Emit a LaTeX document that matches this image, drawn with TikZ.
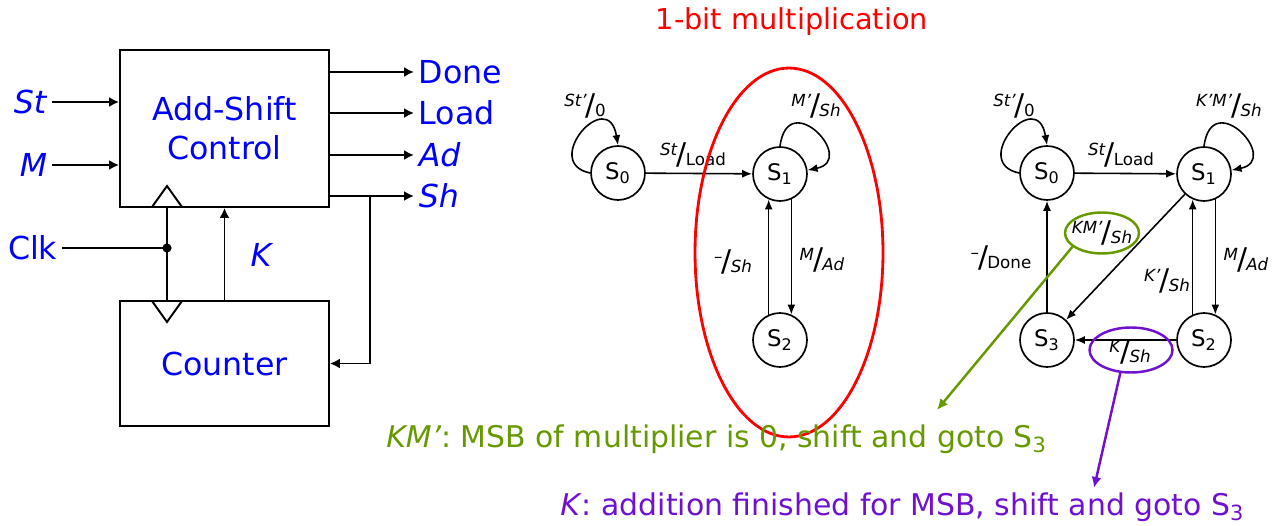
\documentclass[tikz,border=0pt]{standalone}
\usepackage{fontspec}
\setmainfont{DejaVu Sans}
\usetikzlibrary{arrows.meta, positioning, shapes.geometric}

\definecolor{olivegreen}{RGB}{102,153,0}
\definecolor{violetpen}{RGB}{112,16,208}

% input/output pair of a transition: small raised input, big slash, output
\newcommand{\trans}[2]{\raisebox{5pt}{#1}\kern-0.5pt{\fontsize{17}{17}\selectfont/}\kern-0.5pt\raisebox{-0.5pt}{#2}}

\begin{document}
\begin{tikzpicture}[
            x=0.02cm, y=-0.02cm,
            every node/.style={inner sep=0pt},
            block/.style={draw, line width=1.1pt, minimum width=4.18cm, text=blue,
                font=\fontsize{18}{22}\selectfont, align=center},
            sig/.style={line width=1.1pt, -{Latex[length=2mm,width=2mm]}},
            wire/.style={line width=1.1pt},
            io/.style={text=blue, font=\fontsize{18}{22}\selectfont, inner sep=2.5pt},
            state/.style={circle, draw, line width=0.95pt, minimum size=1.08cm,
                font=\fontsize{13}{13}\selectfont},
            tr/.style={line width=0.9pt, -{Latex[length=2mm,width=1.6mm]}},
            lab/.style={font=\fontsize{9.5}{11}\selectfont},
            ring/.style={ellipse, line width=1.4pt},
            ptr/.style={line width=1.4pt, -{Latex[length=2.2mm,width=2mm]}},
            note/.style={font=\fontsize{17}{20}\selectfont, anchor=west}
        ]

        \useasboundingbox (0,0) rectangle (1277,526);

        % block diagram
        \node[block, minimum height=3.14cm] (ctrl) at (224.5,128.5) {Add-Shift\\Control};
        \node[block, minimum height=2.5cm] (counter) at (224.5,363.5) {Counter};

        \node[io, anchor=east] (st) at (52,102) {\textit{St}};
        \draw[sig] (st.east) -- (st.east -| ctrl.west);
        \node[io, anchor=east] (m) at (52,165) {\textit{M}};
        \draw[sig] (m.east) -- (m.east -| ctrl.west);

        \foreach \y/\name/\txt in {72/done/Done, 113/load/Load, 155/ad/\textit{Ad}, 196/sh/\textit{Sh}} {
            \node[io, anchor=west] (\name) at (414,\y) {\txt};
            \draw[sig] (\name.west -| ctrl.east) -- (\name.west);
        }
        \coordinate (tap) at (370,196);
        \draw[sig] (tap) |- (counter.east);

        \node[io, anchor=east] (clk) at (62,248) {Clk};
        \coordinate (clkdot) at (167,248);
        \draw[wire] (clk.east) -- (clkdot);
        \draw[wire] (clkdot |- ctrl.south) -- (clkdot |- counter.north);
        \fill (clkdot) circle (2.6pt);
        \draw[wire] (152,207) -- (167,186) -- (182,207);
        \draw[wire] (152,301) -- (167,322) -- (182,301);

        \draw[sig] (counter.north) -- (ctrl.south);
        \node[io] (k) at (262,255) {\textit{K}};

        % 1-bit state graph
        \node[text=red, font=\fontsize{16.4}{20}\selectfont] (title) at (792,22) {1-bit multiplication};

        \node[state] (ms0) at (618,173) {S\textsubscript{0}};
        \node[state] (ms1) at (780,174) {S\textsubscript{1}};
        \node[state] (ms2) at (780,340) {S\textsubscript{2}};

        \draw[tr] (ms0.west) .. controls +(-50,-10) and +(-10,-60) .. (ms0.north);
        \draw[tr] (ms1.north) .. controls +(8,-60) and +(50,-10) .. (ms1.8);
        \draw[tr] (ms0) -- (ms1);
        \draw[tr] (ms1.-66) -- (ms2.66);
        \draw[tr] (ms2.114) -- (ms1.-114);

        \node[lab] (m01) at (585,106) {\trans{\textit{St'}}{0}};
        \node[lab] (m02) at (693,155) {\trans{\textit{St}}{Load}};
        \node[lab] (m03) at (816,106) {\trans{\textit{M'}}{\textit{Sh}}};
        \node[lab] (m04) at (733,262) {\trans{--}{\textit{Sh}}};
        \node[lab] (m05) at (822,260) {\trans{\textit{M}}{\textit{Ad}}};

        \node[draw=red, ring, line width=1.6pt, minimum width=3.76cm, minimum height=7.38cm] (focus) at (789,252.5) {};

        % full state graph
        \node[state] (rs0) at (1047,173) {S\textsubscript{0}};
        \node[state] (rs1) at (1204,174) {S\textsubscript{1}};
        \node[state] (rs2) at (1204,340) {S\textsubscript{2}};
        \node[state] (rs3) at (1047,340) {S\textsubscript{3}};

        \draw[tr] (rs0.west) .. controls +(-50,-10) and +(-10,-60) .. (rs0.north);
        \draw[tr] (rs1.north) .. controls +(8,-60) and +(50,-10) .. (rs1.8);
        \draw[tr] (rs0) -- (rs1);
        \draw[tr] (rs1.-66) -- (rs2.66);
        \draw[tr] (rs2.114) -- (rs1.-114);
        \draw[tr] (rs1) -- (rs3);
        \draw[tr] (rs2) -- (rs3);
        \draw[tr] (rs3) -- (rs0);

        \node[lab] (r01) at (1014,106) {\trans{\textit{St'}}{0}};
        \node[lab] (r02) at (1121,155) {\trans{\textit{St}}{Load}};
        \node[lab] (r03) at (1229,106) {\trans{\textit{K'M'}}{\textit{Sh}}};
        \node[lab] (r04) at (1001,258) {\trans{--}{Done}};
        \node[lab] (r05) at (1246,260) {\trans{\textit{M}}{\textit{Ad}}};
        \node[lab] (r06) at (1167,281) {\trans{\textit{K'}}{\textit{Sh}}};
        \node[lab] (r07) at (1102,233) {\trans{\textit{KM'}}{\textit{Sh}}};
        \node[lab] (r08) at (1130,352) {\trans{\textit{K}}{\textit{Sh}}};

        \node[draw=olivegreen, ring, minimum width=1.48cm, minimum height=0.82cm] (kmring) at (1102,233) {};
        \node[draw=violetpen, ring, minimum width=1.66cm, minimum height=0.9cm] (kring) at (1131,350) {};

        % explanations
        \coordinate (kmtip) at (937,410);
        \coordinate (ktip) at (1094,488);
        \draw[ptr, olivegreen] (kmring.205) -- (kmtip);
        \draw[ptr, violetpen] (kring.245) -- (ktip);

        \node[note, text=olivegreen] (kmnote) at (386,439) {\textit{KM'}: MSB of multiplier is 0, shift and goto S\textsubscript{3}};
        \node[note, text=violetpen] (knote) at (560,507) {\textit{K}: addition finished for MSB, shift and goto S\textsubscript{3}};

    \end{tikzpicture}
\end{document}
